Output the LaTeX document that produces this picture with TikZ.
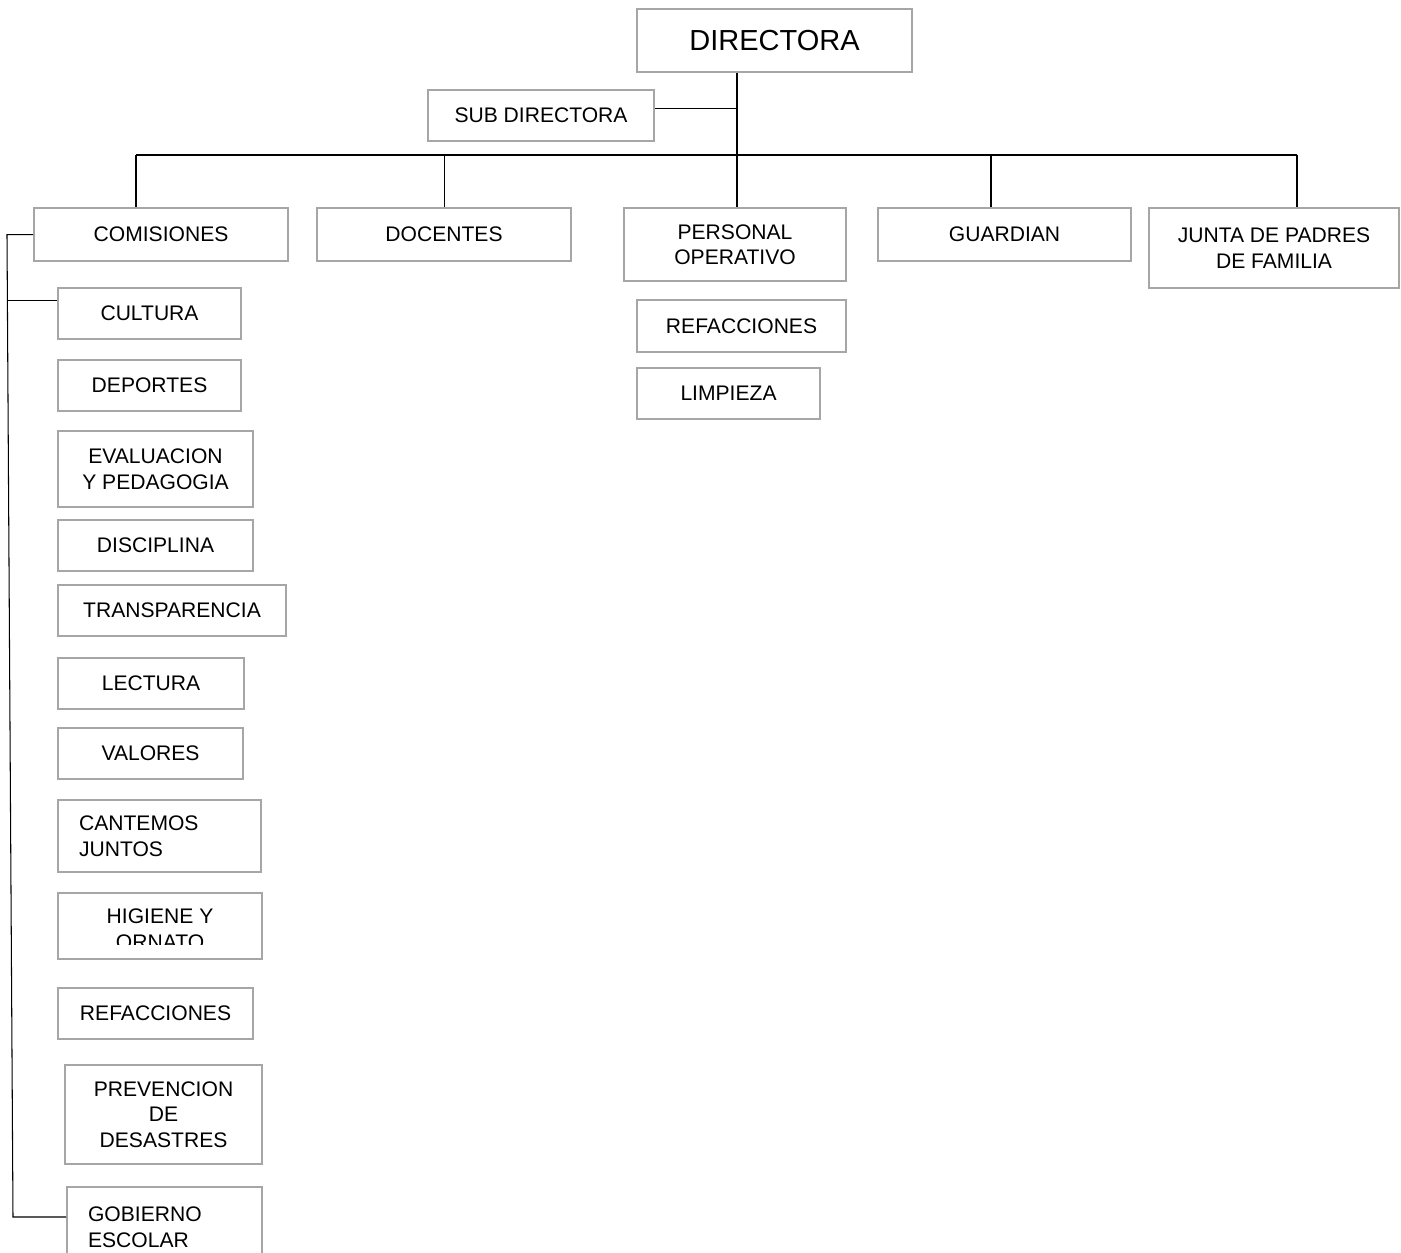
\documentclass[tikz,border=0pt]{standalone}
\usepackage{fontspec}
\setmainfont{Liberation Sans}
\usepackage{tikz}
\usetikzlibrary{positioning,calc}
\definecolor{boxgray}{RGB}{166,166,166}

\tikzset{
  caja/.style={draw=boxgray, line width=1.2pt, rectangle, anchor=north west, inner sep=0pt,
    align=center, font=\fontsize{12}{14.5}\selectfont},
  linea/.style={draw=black, line width=0.6pt}
}

\begin{document}
\begin{tikzpicture}[x=0.02cm, y=-0.02cm]
    \useasboundingbox (0,0) rectangle (1401,1253);

    % Top
    \node[caja, minimum width=5.5cm, minimum height=1.26cm, font=\fontsize{16.5}{19}\selectfont] (dir) at (636,8) {DIRECTORA};
    \node[caja, minimum width=4.52cm, minimum height=1.02cm] (sub) at (427,89) {SUB DIRECTORA};

    % Second row
    \node[caja, minimum width=5.08cm, minimum height=1.06cm] (com) at (33,207) {COMISIONES};
    \node[caja, minimum width=5.08cm, minimum height=1.06cm] (doc) at (316,207) {DOCENTES};
    \node[caja, minimum width=4.44cm, minimum height=1.46cm] (per) at (623,207) {PERSONAL\\OPERATIVO};
    \node[caja, minimum width=5.06cm, minimum height=1.06cm] (gua) at (877,207) {GUARDIAN};
    \node[caja, minimum width=5.0cm, minimum height=1.6cm] (jun) at (1148,207) {JUNTA DE PADRES\\DE FAMILIA};

    % Personal operativo
    \node[caja, minimum width=4.18cm, minimum height=1.04cm] (refop) at (636,299) {REFACCIONES};
    \node[caja, minimum width=3.66cm, minimum height=1.02cm] (lim) at (636,367) {LIMPIEZA};

    % Comisiones
    \node[caja, minimum width=3.66cm, minimum height=1.02cm] (cul) at (57,287) {CULTURA};
    \node[caja, minimum width=3.66cm, minimum height=1.02cm] (dep) at (57,359) {DEPORTES};
    \node[caja, minimum width=3.9cm, minimum height=1.52cm] (eva) at (57,430) {EVALUACION\\Y PEDAGOGIA};
    \node[caja, minimum width=3.9cm, minimum height=1.02cm] (dis) at (57,519) {DISCIPLINA};
    \node[caja, minimum width=4.56cm, minimum height=1.02cm] (tra) at (57,584) {TRANSPARENCIA};
    \node[caja, minimum width=3.72cm, minimum height=1.02cm] (lec) at (57,657) {LECTURA};
    \node[caja, minimum width=3.7cm, minimum height=1.02cm] (val) at (57,727) {VALORES};
    \node[caja, minimum height=1.44cm, inner xsep=0.42cm, text width=3.22cm, align=left] (can) at (57,799) {CANTEMOS\\JUNTOS};
    \node[caja, minimum width=4.08cm, minimum height=1.32cm] (hig) at (57,892) {};
    \begin{scope}
      \clip (57,892) rectangle (261,944);
      \node[align=center, inner sep=0pt, font=\fontsize{12}{14.5}\selectfont] (higtxt) at ($(hig.center)+(0,3)$) {HIGIENE Y\\ORNATO};
    \end{scope}
    \node[caja, minimum width=3.9cm, minimum height=1.02cm] (ref) at (57,987) {REFACCIONES};
    \node[caja, minimum width=3.94cm, minimum height=1.98cm] (pre) at (64,1064) {PREVENCION\\DE\\DESASTRES};
    \node[caja, minimum height=1.6cm, inner xsep=0.42cm, text width=3.06cm, align=left] (gob) at (66,1186) {GOBIERNO\\ESCOLAR};

    % Connectors
    \coordinate (busL) at (136,155);
    \coordinate (busR) at (1297,155);
    \coordinate (tronco) at (737,155);
    \coordinate (bgua) at (991,155);
    \coordinate (izqA) at (7,235);
    \coordinate (izqB) at (13,1217);

    \draw[linea] (tronco |- dir.south) -- (tronco);
    \draw[linea] ([yshift=0.14cm]sub.east) -- ([yshift=0.14cm]sub.east -| tronco);
    \draw[linea] (busL) -- (busR);
    \draw[linea] (busL) -- (busL |- com.north);
    \draw[linea] (doc.north |- busL) -- (doc.north);
    \draw[linea] (tronco) -- (tronco |- per.north);
    \draw[linea] (bgua) -- (bgua |- gua.north);
    \draw[linea] (busR) -- (busR |- jun.north);

    % Comisiones line
    \draw[linea] (com.west) -- (com.west -| izqA) -- (izqB) -- (izqB -| gob.west);
    \draw[linea] ([yshift=0.27cm]cul.west) -- ([yshift=0.27cm]cul.west -| izqA);

\end{tikzpicture}
\end{document}
